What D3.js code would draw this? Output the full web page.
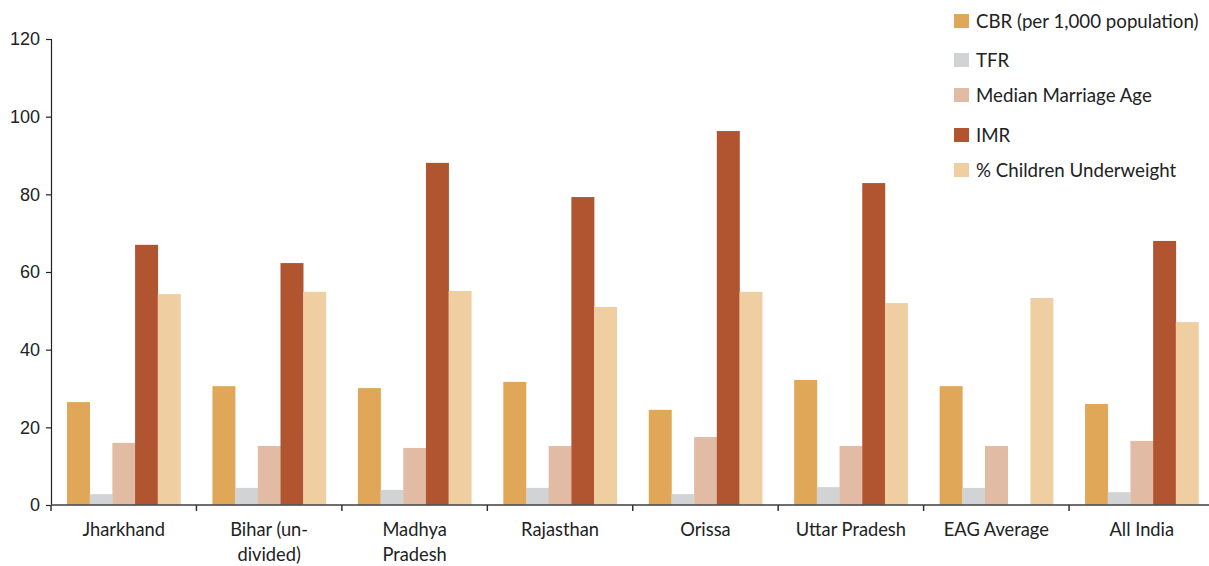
<!DOCTYPE html>
<html>
<head>
<meta charset="utf-8">
<script src="https://cdn.jsdelivr.net/npm/d3@7"></script>
<style>
  html, body { margin: 0; padding: 0; background: #fff; }
  svg { display: block; }
</style>
</head>
<body>
<svg id="chart" width="1209" height="566"></svg>
<script>
// Indicators by state
const categories = [
  ["Jharkhand"],
  ["Bihar (un-", "divided)"],
  ["Madhya", "Pradesh"],
  ["Rajasthan"],
  ["Orissa"],
  ["Uttar Pradesh"],
  ["EAG Average"],
  ["All India"]
];
const seriesNames = ["CBR (per 1,000 population)", "TFR", "Median Marriage Age", "IMR", "% Children Underweight"];
const cbr   = [26.5, 30.6, 30.1, 31.7, 24.5, 32.2, 30.6, 26.0];
const tfr   = [2.8, 4.4, 3.9, 4.4, 2.8, 4.6, 4.4, 3.3];
const mma   = [16.0, 15.2, 14.7, 15.2, 17.5, 15.2, 15.2, 16.5];
const imr   = [67.0, 62.3, 88.1, 79.3, 96.3, 82.9, null, 68.0];
const under = [54.3, 54.9, 55.1, 51.0, 54.9, 52.0, 53.3, 47.1];
const yTicks = [0, 20, 40, 60, 80, 100, 120];
const colors = ["#dfa757", "#d2d3d5", "#e1bba4", "#b15530", "#efcfa1"];

const seriesValues = [cbr, tfr, mma, imr, under];

const svg = d3.select("#chart");
const margin = { left: 51, top: 39, bottom: 61 };
const H = 566;
const x0 = d3.scaleBand().domain(d3.range(categories.length)).range([51, 1214.5]).padding(0);
const x1 = d3.scaleBand().domain(d3.range(seriesNames.length)).range([16, x0.bandwidth() - 16]).padding(0);
const y = d3.scaleLinear().domain([0, 120]).range([H - margin.bottom, margin.top]);

// Bars
const groups = svg.append("g").selectAll("g")
  .data(categories)
  .join("g")
  .attr("transform", (d, i) => `translate(${x0(i)},0)`);

groups.selectAll("rect")
  .data((d, i) => seriesValues.map((vals, s) => ({ s, v: vals[i] })).filter(e => e.v != null))
  .join("rect")
  .attr("x", d => x1(d.s))
  .attr("width", x1.bandwidth() + 0.3)
  .attr("y", d => y(d.v))
  .attr("height", d => y(0) - y(d.v))
  .attr("fill", d => colors[d.s]);

// Y axis
const yAxis = svg.append("g")
  .attr("transform", `translate(${margin.left},0)`)
  .call(d3.axisLeft(y).tickValues(yTicks).tickSize(5).tickPadding(6));
yAxis.select(".domain").attr("stroke", "#222").attr("stroke-width", 1.2);
yAxis.selectAll(".tick line").attr("stroke", "#222").attr("stroke-width", 1.2);
yAxis.selectAll("text")
  .attr("font-family", "'Liberation Sans', Arial, sans-serif")
  .attr("font-size", 18)
  .attr("fill", "#222");

// X axis
const xg = svg.append("g");
xg.append("line")
  .attr("x1", margin.left).attr("x2", 1209)
  .attr("y1", y(0)).attr("y2", y(0))
  .attr("stroke", "#555").attr("stroke-opacity", 0.85).attr("stroke-width", 2);
xg.selectAll("line.tick")
  .data(d3.range(categories.length + 1))
  .join("line")
  .attr("class", "tick")
  .attr("x1", i => i < categories.length ? x0(i) : x0.range()[1])
  .attr("x2", i => i < categories.length ? x0(i) : x0.range()[1])
  .attr("y1", y(0)).attr("y2", y(0) + 6)
  .attr("stroke", "#333").attr("stroke-width", 1.5);

const labels = xg.selectAll("text.cat")
  .data(categories)
  .join("text")
  .attr("class", "cat")
  .attr("x", (d, i) => x0(i) + x0.bandwidth() / 2)
  .attr("y", 536)
  .attr("text-anchor", "middle")
  .attr("font-family", "Lato, sans-serif")
  .attr("font-size", 18.3)
  .attr("fill", "#222");
labels.selectAll("tspan")
  .data(d => d)
  .join("tspan")
  .attr("x", function () { return this.parentNode.getAttribute("x"); })
  .attr("dy", (d, j) => j === 0 ? 0 : 25)
  .text(d => d);

// Legend
const legendY = [21, 60, 95, 135, 170];
const legend = svg.append("g").selectAll("g")
  .data(seriesNames)
  .join("g")
  .attr("transform", (d, i) => `translate(954,${legendY[i]})`);
legend.append("rect")
  .attr("x", 0).attr("y", -7).attr("width", 15).attr("height", 14)
  .attr("fill", (d, i) => colors[i]);
legend.append("text")
  .attr("x", 22).attr("y", 0).attr("dy", "0.35em")
  .attr("font-family", "Lato, sans-serif")
  .attr("font-size", 18.7)
  .attr("fill", "#222")
  .text(d => d);
</script>
</body>
</html>
